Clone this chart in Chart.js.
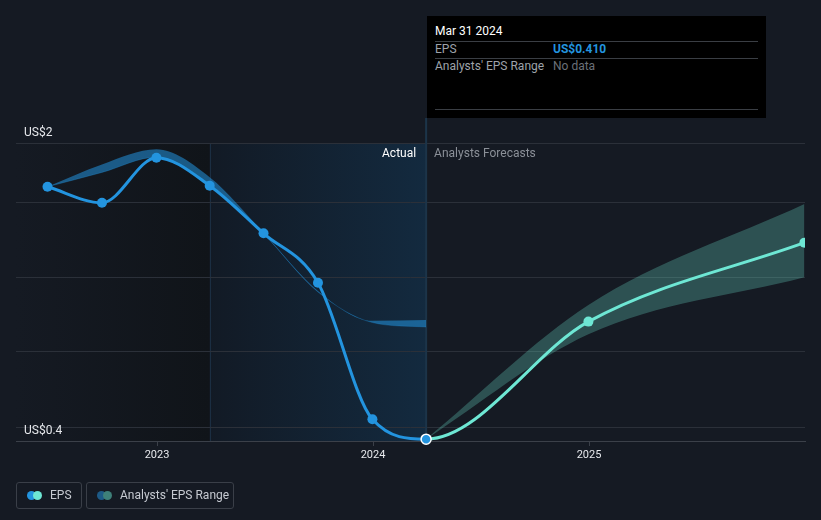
<!DOCTYPE html>
<html>
<head>
<meta charset="utf-8">
<script src="https://cdn.jsdelivr.net/npm/chart.js@4.4.1/dist/chart.umd.min.js"></script>
<style>
  html, body { margin: 0; padding: 0; background: #151a23; }
  #wrap { position: relative; width: 821px; height: 520px; overflow: hidden; font-family: Roboto, "Noto Sans", sans-serif; }
  canvas { position: absolute; left: 0; top: 0; }
  .tip { position: absolute; left: 427px; top: 16px; width: 339px; height: 102px; background: #000; font-size: 12px; }
  .tip div { position: absolute; white-space: nowrap; }
  .tip .title { left: 8px; top: 8px; line-height: 14px; color: #fff; font-weight: 400; }
  .tip .sep { left: 8px; right: 8px; height: 1px; background: #3a3e44; }
  .tip .lab { left: 8px; line-height: 14px; color: #9ea3aa; }
  .tip .val { left: 126px; line-height: 14px; }
  .legend { position: absolute; top: 482px; height: 25px; border: 1px solid #3a3f48; border-radius: 3px; font-size: 12px; color: #c6cad1; line-height: 25px; }
  .legend span.txt { position: absolute; white-space: nowrap; }
  .dot { position: absolute; top: 8px; width: 9px; height: 9px; border-radius: 50%; }
</style>
</head>
<body>
<div id="wrap">
  <canvas id="epsChart" width="821" height="520"></canvas>

  <div class="tip">
    <div class="title">Mar 31 2024</div>
    <div class="sep" style="top:25px"></div>
    <div class="lab" style="top:26px">EPS</div>
    <div class="val" style="top:26px;color:#2394df;font-weight:700">US$0.410</div>
    <div class="sep" style="top:42px"></div>
    <div class="lab" style="top:43px">Analysts' EPS Range</div>
    <div class="val" style="top:43px;color:#6b7078">No data</div>
    <div class="sep" style="top:93px"></div>
  </div>

  <div class="legend" style="left:16px;width:64px">
    <div class="dot" style="left:10px;background:#2394df"></div>
    <div class="dot" style="left:16px;background:#6ee7d4"></div>
    <span class="txt" style="left:33px">EPS</span>
  </div>
  <div class="legend" style="left:86px;width:146px">
    <div class="dot" style="left:10px;background:#1d5a86"></div>
    <div class="dot" style="left:16px;background:#3e8079"></div>
    <span class="txt" style="left:33px">Analysts' EPS Range</span>
  </div>
</div>

<script>
// reported EPS (US$), quarter ends
const actualDates = ['2022-06-30', '2022-09-30', '2022-12-31', '2023-03-31', '2023-06-30', '2023-09-30', '2023-12-31', '2024-03-31'];
const epsActual = [1.765, 1.679, 1.921, 1.771, 1.515, 1.250, 0.517, 0.410];
// past analysts' range
const pastRangeHigh = [1.765, 1.885, 1.966, 1.816, 1.518, 1.206, 1.045, 1.049];
const pastRangeLow = [1.765, 1.842, 1.924, 1.778, 1.512, 1.200, 1.036, 1.012];

// forecasts
const forecastDates = ['2024-03-31', '2024-12-31', '2025-12-31'];
const epsForecast = [0.410, 1.041, 1.465];
const futureRangeHigh = [0.410, 1.130, 1.672];
const futureRangeLow = [0.410, 0.973, 1.279];

// axes
const yearTicks = [2023, 2024, 2025];
const gridValues = [0.475, 0.878, 1.2805, 1.683, 2.0];
const yLabelValues = [2.0, 0.4];
const yLabelTexts = ['US$2', 'US$0.4'];

const BLUE = '#2394df';
const TEAL = '#6ee7d4';

function toYear(s) {
  const d = new Date(s + 'T00:00:00Z');
  const y = d.getUTCFullYear();
  const a = Date.UTC(y, 0, 1), b = Date.UTC(y + 1, 0, 1);
  return y + (d.getTime() - a) / (b - a);
}

function pts(dates, vals) {
  return dates.map((d, i) => ({x: toYear(d), y: vals[i]}));
}

const epsDates = actualDates.concat(forecastDates.slice(1));
const epsValues = epsActual.concat(epsForecast.slice(1));
const nActual = actualDates.length;

Chart.defaults.font.family = 'Roboto, "Noto Sans", sans-serif';

const backdrop = {
  id: 'backdrop',
  beforeDraw(chart) {
    const {ctx, chartArea: a, scales: {x}} = chart;
    const xSplit = x.getPixelForValue(toYear(actualDates[nActual - 5]));
    const xNow = x.getPixelForValue(toYear(actualDates[nActual - 1]));
    ctx.save();
    ctx.fillStyle = '#151a23';
    ctx.fillRect(0, 0, chart.width, chart.height);
    let g = ctx.createLinearGradient(a.left, 0, xSplit, 0);
    g.addColorStop(0, '#151a23');
    g.addColorStop(1, '#101419');
    ctx.fillStyle = g;
    ctx.fillRect(a.left, a.top, xSplit - a.left, a.bottom - a.top);
    g = ctx.createLinearGradient(xSplit, 0, xNow, 0);
    g.addColorStop(0, '#121a25');
    g.addColorStop(1, '#132a3f');
    ctx.fillStyle = g;
    ctx.fillRect(xSplit, a.top, xNow - xSplit, a.bottom - a.top);
    ctx.strokeStyle = '#1b2e42';
    ctx.lineWidth = 1;
    ctx.beginPath();
    ctx.moveTo(Math.round(xSplit) + 0.5, a.top);
    ctx.lineTo(Math.round(xSplit) + 0.5, a.bottom);
    ctx.stroke();
    ctx.restore();
  },
  beforeDatasetsDraw(chart) {
    const {ctx, chartArea: a, scales: {x, y}} = chart;
    const xNow = x.getPixelForValue(toYear(actualDates[nActual - 1]));
    ctx.save();
    ctx.strokeStyle = '#1c3449';
    ctx.lineWidth = 2;
    ctx.beginPath();
    ctx.moveTo(xNow, 118);
    ctx.lineTo(xNow, a.bottom);
    ctx.stroke();

    ctx.font = '12px Roboto, "Noto Sans", sans-serif';
    ctx.textBaseline = 'middle';
    ctx.textAlign = 'right';
    ctx.fillStyle = '#ffffff';
    ctx.fillText('Actual', xNow - 10, a.top + 11);
    ctx.textAlign = 'left';
    ctx.fillStyle = '#8b9098';
    ctx.fillText('Analysts Forecasts', xNow + 8, a.top + 11);

    ctx.textBaseline = 'alphabetic';
    ctx.fillStyle = '#e6e8ec';
    yLabelValues.forEach((v, i) => {
      ctx.fillText(yLabelTexts[i], a.left + 8, y.getPixelForValue(v) - 7);
    });
    ctx.restore();
  }
};

new Chart('epsChart', {
  type: 'line',
  data: {
    datasets: [{
      label: 'EPS',
      data: pts(epsDates, epsValues),
      borderColor: BLUE,
      borderWidth: 3,
      cubicInterpolationMode: 'monotone',
      segment: {
        borderColor: c => c.p0DataIndex >= nActual - 1 ? TEAL : BLUE
      },
      pointRadius: 5,
      pointBackgroundColor: epsValues.map((v, i) => i < nActual ? BLUE : TEAL),
      pointBorderColor: epsValues.map((v, i) => i === nActual - 1 ? '#ffffff' : 'transparent'),
      pointBorderWidth: epsValues.map((v, i) => i === nActual - 1 ? 1.5 : 0),
      clip: {left: 10, top: 10, right: 0, bottom: 10},
      fill: false
    }, {
      label: 'pastHigh',
      data: pts(actualDates, pastRangeHigh),
      borderWidth: 0,
      borderColor: 'transparent',
      pointRadius: 0,
      cubicInterpolationMode: 'monotone',
      backgroundColor: 'rgba(35,148,223,0.55)',
      fill: '+1'
    }, {
      label: 'pastLow',
      data: pts(actualDates, pastRangeLow),
      borderWidth: 0.6,
      borderColor: 'rgba(35,148,223,0.45)',
      pointRadius: 0,
      cubicInterpolationMode: 'monotone',
      fill: false
    }, {
      label: 'futureHigh',
      data: pts(forecastDates, futureRangeHigh),
      borderWidth: 0,
      borderColor: 'transparent',
      pointRadius: 0,
      cubicInterpolationMode: 'monotone',
      backgroundColor: 'rgba(110,231,212,0.27)',
      fill: '+1',
      clip: 0
    }, {
      label: 'futureLow',
      data: pts(forecastDates, futureRangeLow),
      borderWidth: 0,
      borderColor: 'transparent',
      pointRadius: 0,
      cubicInterpolationMode: 'monotone',
      fill: false,
      clip: 0
    }]
  },
  options: {
    responsive: false,
    maintainAspectRatio: false,
    animation: false,
    events: [],
    layout: {padding: {left: 16, right: 16, top: 143, bottom: 49}},
    plugins: {
      legend: {display: false},
      tooltip: {enabled: false}
    },
    scales: {
      x: {
        type: 'linear',
        min: 2022.3472,
        max: 2026.0,
        afterBuildTicks: s => { s.ticks = yearTicks.map(v => ({value: v})); },
        afterFit: s => { s.height = 30; },
        ticks: {
          color: '#e6e8ec',
          font: {size: 11},
          padding: 3,
          callback: v => String(v)
        },
        grid: {drawOnChartArea: false, drawTicks: true, tickLength: 5, color: '#3b4049'},
        border: {color: '#3b4049', width: 1}
      },
      y: {
        type: 'linear',
        min: 0.4,
        max: 2.0,
        afterBuildTicks: s => { s.ticks = gridValues.map(v => ({value: v})); },
        afterFit: s => { s.width = 0; },
        ticks: {display: false},
        grid: {drawTicks: false, color: '#2b3039', lineWidth: 1},
        border: {display: false}
      }
    }
  },
  plugins: [backdrop]
});
</script>
</body>
</html>
